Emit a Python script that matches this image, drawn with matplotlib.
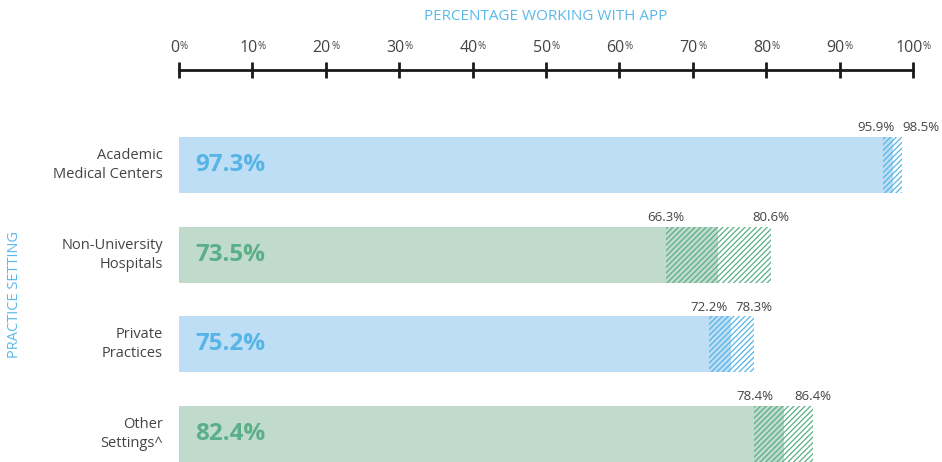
import matplotlib
matplotlib.use('Agg')
import matplotlib.pyplot as plt

plt.rcParams['font.family'] = ['Open Sans', 'DejaVu Sans']
plt.rcParams['hatch.linewidth'] = 0.9

# data
settings = ['Academic\nMedical Centers', 'Non-University\nHospitals',
            'Private\nPractices', 'Other\nSettings^']
estimate = [97.3, 73.5, 75.2, 82.4]
ci_low = [95.9, 66.3, 72.2, 78.4]
ci_high = [98.5, 80.6, 78.3, 86.4]
ticks = [0, 10, 20, 30, 40, 50, 60, 70, 80, 90, 100]

fills = ['#bddef4', '#c0dbcb', '#bddef4', '#c0dbcb']
accents = ['#56b4e6', '#5aaf88', '#56b4e6', '#5aaf88']
grey = '#444444'
# nudge for the CI labels of the first row so they don't collide
lab_dx = [(-5, 14), (0, 0), (0, 0), (0, 0)]

fig = plt.figure(figsize=(9.42, 4.62), dpi=100)
ax = fig.add_axes([179 / 942, 0, 734 / 942, 1 - 70 / 462])

h = 0.624
for i, name in enumerate(settings):
    ax.barh(i, ci_low[i], height=h, color=fills[i], lw=0)
    ax.barh(i, estimate[i] - ci_low[i], left=ci_low[i], height=h,
            facecolor=fills[i], edgecolor=accents[i], hatch='//////', lw=0)
    ax.barh(i, ci_high[i] - estimate[i], left=estimate[i], height=h,
            facecolor='white', edgecolor=accents[i], hatch='//////', lw=0)

    ax.annotate(f'{estimate[i]:.1f}%', xy=(0, i), xytext=(11.5, 0),
                textcoords='offset points', ha='left', va='center',
                fontsize=17.5, fontweight='bold', color=accents[i])
    for v, dx in zip((ci_low[i], ci_high[i]), lab_dx[i]):
        ax.annotate(f'{v:.1f}%', xy=(v, i - h / 2), xytext=(dx, 4),
                    textcoords='offset points', ha='center', va='baseline',
                    fontsize=9.5, color=grey)
    ax.text(-0.022, i, name, transform=ax.get_yaxis_transform(),
            ha='right', va='center', fontsize=10.5, color=grey,
            linespacing=1.35, multialignment='right')

ax.set_xlim(0, 100)
ax.set_ylim(3.312, -1.059)
ax.xaxis.tick_top()
ax.set_xticks(ticks)
ax.tick_params(axis='x', direction='inout', length=11, width=2,
               color='#1a1a1a', labeltop=False)
ax.set_yticks([])
for s in ['left', 'right', 'bottom']:
    ax.spines[s].set_visible(False)
ax.spines['top'].set_linewidth(2)
ax.spines['top'].set_color('#1a1a1a')

# tick labels with a small raised percent sign
for t in ticks:
    num = ax.annotate(str(t), xy=(t, 1), xycoords=ax.get_xaxis_transform(),
                      xytext=(-3, 13), textcoords='offset points',
                      ha='center', va='baseline', fontsize=11.5, color=grey)
    ax.annotate('%', xy=(1, 1), xycoords=num, xytext=(0.3, -1),
                textcoords='offset points', ha='left', va='top',
                fontsize=7, color=grey)

fig.text(ax.get_position().x0 + ax.get_position().width / 2, 1 - 16 / 462,
         'PERCENTAGE WORKING WITH APP', ha='center', va='center',
         fontsize=11, color='#5bb9ea')
fig.text(15 / 942, 1 - 295 / 462, 'PRACTICE SETTING', rotation=90,
         ha='center', va='center', fontsize=10.5, color='#5bb9ea')

fig.savefig('out.png', dpi=100)
